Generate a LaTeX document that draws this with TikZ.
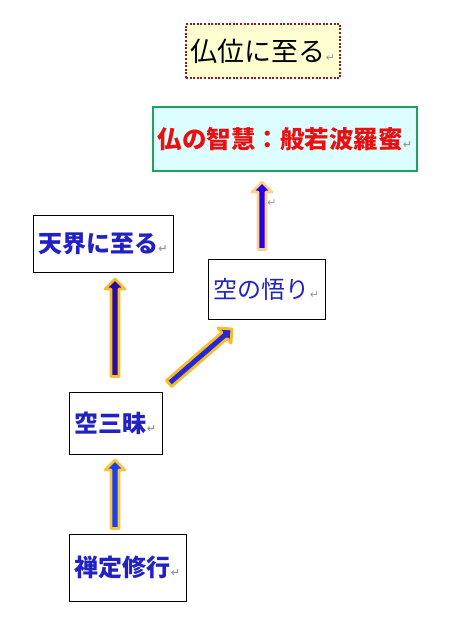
\documentclass[tikz,border=0pt]{standalone}
\usepackage{fontspec}
\setmainfont{Noto Sans CJK JP}
\newfontfamily\symfont{DejaVu Sans}
\usetikzlibrary{calc}
\definecolor{tblue}{HTML}{2222C4}
\definecolor{tred}{HTML}{E81010}
\definecolor{ylfill}{HTML}{FFFFD2}
\definecolor{dotred}{HTML}{8E1C1C}
\definecolor{cyfill}{HTML}{DDFEFE}
\definecolor{grborder}{HTML}{1FA25A}
\definecolor{orA}{HTML}{F6BE2E}
\definecolor{orC}{HTML}{FBD18C}
\definecolor{orD}{HTML}{F7C640}
\definecolor{fiA}{HTML}{2C0C9C}
\definecolor{fiB}{HTML}{2828D0}
\definecolor{fiC}{HTML}{2B00E0}
\definecolor{fiD}{HTML}{1E40E8}
\newcommand\retmark{{\symfont\fontsize{11}{11}\selectfont\color{gray!80}↵}}
\newcommand\arrsw{4pt}
\newcommand\arrhw{10pt}
\newcommand\arrhl{10pt}
\newcommand\blockarrow[3][]{%
  \coordinate (ba-b) at ($(#3)!\arrhl!(#2)$);
  \draw[blockarr,#1] ($(#2)!\arrsw!90:(#3)$) -- ($(ba-b)!\arrsw!90:(#3)$)
    -- ($(ba-b)!\arrhw!90:(#3)$) -- (#3) -- ($(ba-b)!\arrhw!-90:(#3)$)
    -- ($(ba-b)!\arrsw!-90:(#3)$) -- ($(#2)!\arrsw!-90:(#3)$) -- cycle;}
\begin{document}
\begin{tikzpicture}[x=1pt,y=-1pt,
  box/.style={draw=black, line width=0.9pt, fill=white, inner sep=0pt,
    font=\fontsize{24}{24}\selectfont},
  bluebold/.style={text=tblue, font=\fontsize{24}{24}\selectfont\bfseries},
  bluereg/.style={text=tblue},
  blockarr/.style={line width=2.8pt, line join=round}]
\useasboundingbox (0,0) rectangle (468,626);
\fill[white] (0,0) rectangle (468,626);

\node[box, draw=dotred, fill=ylfill, line width=2pt, dash pattern=on 2pt off 1.6pt,
  minimum width=154pt, minimum height=54pt, font=\fontsize{27}{27}\selectfont]
  (goal) at (263,51) {仏位に至る\retmark};
\node[box, draw=grborder, fill=cyfill, line width=2pt, text=tred,
  minimum width=264pt, minimum height=64pt, font=\fontsize{24.5}{24.5}\selectfont\bfseries]
  (wisdom) at (285,139) {仏の智慧：般若波羅蜜\retmark};
\node[box, bluebold, minimum width=140pt, minimum height=57pt]
  (heaven) at (103,243.5) {天界に至る\retmark};
\node[box, bluereg, minimum width=117pt, minimum height=60pt]
  (satori) at (266.5,289) {空の悟り\retmark};
\node[box, bluebold, minimum width=93pt, minimum height=62pt]
  (samadhi) at (115.5,423) {空三昧\retmark};
\node[box, bluebold, minimum width=117pt, minimum height=67pt]
  (zen) at (127.5,567.5) {禅定修行\retmark};

\coordinate (aT) at (115,376.5);
\coordinate (aH) at (115,279);
\coordinate (bT) at (169,383.5);
\coordinate (bH) at (232,329);
\coordinate (cT) at (262,249.5);
\coordinate (cH) at (262,182);
\coordinate (dT) at (115,528.5);
\coordinate (dH) at (115,460);

\blockarrow[draw=orA, fill=fiA]{aT}{aH}
\blockarrow[draw=orA, fill=fiB]{bT}{bH}
\blockarrow[draw=orC, fill=fiC]{cT}{cH}
\blockarrow[draw=orD, fill=fiD]{dT}{dH}

\node[inner sep=0pt] (cmark) at (272,203) {\retmark};
\end{tikzpicture}
\end{document}
